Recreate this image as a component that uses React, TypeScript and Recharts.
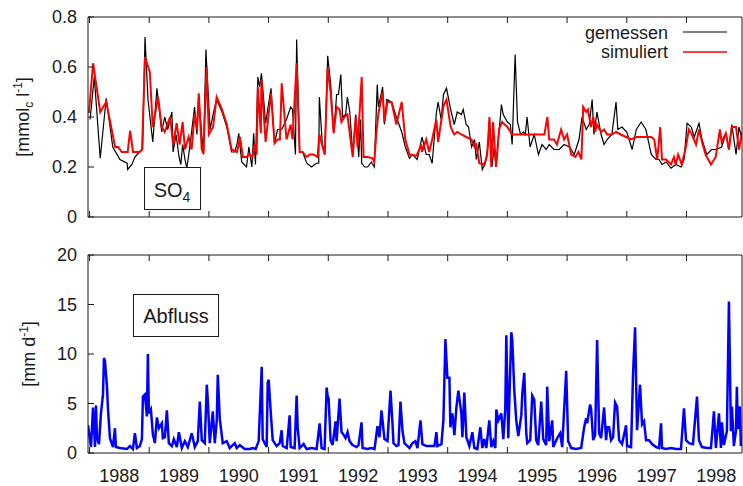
import React from 'react';
import { LineChart, Line, XAxis, YAxis } from 'recharts';

const FONT = '"Liberation Sans", Arial, Helvetica, sans-serif';
const INK = '#1a1a1a';

const jahre = [1988, 1989, 1990, 1991, 1992, 1993, 1994, 1995, 1996, 1997, 1998];
const jahresMitte = jahre.map((j) => j + 0.5);
const zeitraum: [number, number] = [1987.975, 1998.93];

const so4Ticks = [0, 0.2, 0.4, 0.6, 0.8];
const abflussTicks = [0, 5, 10, 15, 20];

// SO4 [mmolc/l], gemessen
const gemessen: [number, number][] = [
  [1988.01, 0.39], [1988.08, 0.56], [1988.18, 0.235], [1988.28, 0.475], [1988.39, 0.28], [1988.51, 0.23],
  [1988.63, 0.215], [1988.64, 0.19], [1988.71, 0.21], [1988.76, 0.24], [1988.84, 0.26], [1988.89, 0.27],
  [1988.93, 0.72], [1988.98, 0.47], [1989.06, 0.3], [1989.13, 0.515], [1989.21, 0.34], [1989.26, 0.4],
  [1989.31, 0.35], [1989.38, 0.42], [1989.4, 0.26], [1989.45, 0.33], [1989.5, 0.24], [1989.53, 0.21],
  [1989.56, 0.29], [1989.6, 0.23], [1989.63, 0.195], [1989.68, 0.28], [1989.76, 0.44], [1989.8, 0.33],
  [1989.83, 0.48], [1989.88, 0.33], [1989.91, 0.25], [1989.95, 0.67], [1990.02, 0.35], [1990.07, 0.41],
  [1990.13, 0.47], [1990.22, 0.42], [1990.3, 0.36], [1990.38, 0.26], [1990.43, 0.26], [1990.47, 0.29],
  [1990.5, 0.335], [1990.55, 0.22], [1990.63, 0.2], [1990.67, 0.28], [1990.72, 0.2], [1990.75, 0.335],
  [1990.78, 0.21], [1990.82, 0.56], [1990.85, 0.52], [1990.88, 0.575], [1990.9, 0.52], [1990.95, 0.375],
  [1991.04, 0.515], [1991.1, 0.295], [1991.15, 0.35], [1991.22, 0.35], [1991.3, 0.39], [1991.37, 0.44],
  [1991.4, 0.43], [1991.45, 0.25], [1991.47, 0.71], [1991.52, 0.26], [1991.57, 0.26], [1991.64, 0.215],
  [1991.72, 0.2], [1991.8, 0.215], [1991.84, 0.215], [1991.85, 0.48], [1991.9, 0.29], [1991.94, 0.25],
  [1991.99, 0.645], [1992.04, 0.53], [1992.09, 0.335], [1992.14, 0.49], [1992.17, 0.49], [1992.21, 0.57],
  [1992.24, 0.4], [1992.29, 0.41], [1992.32, 0.48], [1992.36, 0.42], [1992.41, 0.25], [1992.46, 0.41],
  [1992.51, 0.24], [1992.54, 0.39], [1992.56, 0.215], [1992.61, 0.2], [1992.66, 0.2], [1992.72, 0.22],
  [1992.77, 0.2], [1992.82, 0.53], [1992.84, 0.44], [1992.91, 0.52], [1992.94, 0.37], [1992.98, 0.47],
  [1993.06, 0.46], [1993.14, 0.4], [1993.23, 0.34], [1993.29, 0.28], [1993.36, 0.235], [1993.41, 0.25],
  [1993.49, 0.23], [1993.57, 0.32], [1993.64, 0.25], [1993.69, 0.25], [1993.74, 0.215], [1993.81, 0.415],
  [1993.84, 0.46], [1993.89, 0.39], [1993.93, 0.49], [1993.98, 0.515], [1994.05, 0.43], [1994.11, 0.37],
  [1994.16, 0.42], [1994.23, 0.41], [1994.26, 0.43], [1994.31, 0.37], [1994.35, 0.36], [1994.4, 0.28],
  [1994.45, 0.31], [1994.48, 0.23], [1994.53, 0.3], [1994.58, 0.19], [1994.63, 0.215], [1994.68, 0.29],
  [1994.7, 0.39], [1994.74, 0.2], [1994.78, 0.28], [1994.81, 0.2], [1994.9, 0.45], [1994.93, 0.41],
  [1995.0, 0.38], [1995.05, 0.37], [1995.08, 0.29], [1995.13, 0.65], [1995.17, 0.38], [1995.22, 0.33],
  [1995.27, 0.34], [1995.3, 0.33], [1995.33, 0.4], [1995.38, 0.28], [1995.45, 0.33], [1995.52, 0.25],
  [1995.58, 0.29], [1995.65, 0.27], [1995.7, 0.29], [1995.78, 0.27], [1995.87, 0.27], [1995.95, 0.29],
  [1996.04, 0.28], [1996.12, 0.25], [1996.2, 0.31], [1996.25, 0.4], [1996.32, 0.35], [1996.37, 0.37],
  [1996.42, 0.47], [1996.45, 0.33], [1996.5, 0.42], [1996.57, 0.33], [1996.62, 0.29], [1996.67, 0.31],
  [1996.75, 0.33], [1996.82, 0.46], [1996.85, 0.35], [1996.92, 0.36], [1997.0, 0.34], [1997.09, 0.27],
  [1997.16, 0.35], [1997.24, 0.38], [1997.32, 0.35], [1997.41, 0.25], [1997.49, 0.23], [1997.54, 0.23],
  [1997.59, 0.21], [1997.66, 0.22], [1997.74, 0.195], [1997.82, 0.21], [1997.91, 0.2], [1997.96, 0.23],
  [1998.01, 0.375], [1998.08, 0.36], [1998.13, 0.32], [1998.21, 0.375], [1998.26, 0.31], [1998.34, 0.25],
  [1998.42, 0.27], [1998.5, 0.27], [1998.59, 0.28], [1998.66, 0.335], [1998.71, 0.27], [1998.76, 0.37],
  [1998.83, 0.25], [1998.88, 0.36], [1998.93, 0.31],
];

// SO4 [mmolc/l], simuliert
const simuliert: [number, number][] = [
  [1987.99, 0.416], [1988.06, 0.615], [1988.18, 0.42], [1988.28, 0.46], [1988.43, 0.28], [1988.48, 0.28],
  [1988.54, 0.26], [1988.64, 0.26], [1988.68, 0.345], [1988.73, 0.26], [1988.84, 0.26], [1988.88, 0.27],
  [1988.93, 0.64], [1989.01, 0.58], [1989.06, 0.36], [1989.15, 0.48], [1989.21, 0.36], [1989.26, 0.34],
  [1989.35, 0.4], [1989.4, 0.29], [1989.46, 0.375], [1989.51, 0.29], [1989.56, 0.38], [1989.6, 0.27],
  [1989.66, 0.32], [1989.71, 0.27], [1989.76, 0.41], [1989.8, 0.35], [1989.83, 0.495], [1989.88, 0.27],
  [1989.91, 0.255], [1989.96, 0.6], [1990.0, 0.33], [1990.07, 0.36], [1990.13, 0.48], [1990.22, 0.43],
  [1990.3, 0.37], [1990.38, 0.27], [1990.47, 0.26], [1990.5, 0.29], [1990.52, 0.32], [1990.57, 0.24],
  [1990.63, 0.24], [1990.68, 0.25], [1990.73, 0.24], [1990.77, 0.29], [1990.8, 0.25], [1990.82, 0.52],
  [1990.87, 0.335], [1990.88, 0.55], [1990.95, 0.3], [1991.04, 0.495], [1991.1, 0.295], [1991.15, 0.31],
  [1991.19, 0.31], [1991.22, 0.535], [1991.3, 0.31], [1991.37, 0.37], [1991.4, 0.31], [1991.47, 0.615],
  [1991.52, 0.26], [1991.57, 0.26], [1991.6, 0.25], [1991.64, 0.24], [1991.69, 0.25], [1991.75, 0.25],
  [1991.82, 0.24], [1991.85, 0.33], [1991.94, 0.25], [1991.99, 0.6], [1992.04, 0.495], [1992.09, 0.335],
  [1992.14, 0.44], [1992.19, 0.43], [1992.22, 0.38], [1992.27, 0.4], [1992.32, 0.41], [1992.41, 0.24],
  [1992.46, 0.4], [1992.49, 0.28], [1992.52, 0.4], [1992.56, 0.56], [1992.59, 0.24], [1992.66, 0.24],
  [1992.74, 0.235], [1992.77, 0.22], [1992.81, 0.35], [1992.84, 0.415], [1992.91, 0.5], [1992.94, 0.38],
  [1992.99, 0.46], [1993.06, 0.46], [1993.14, 0.37], [1993.23, 0.46], [1993.29, 0.31], [1993.36, 0.25],
  [1993.48, 0.245], [1993.56, 0.29], [1993.57, 0.26], [1993.64, 0.31], [1993.69, 0.26], [1993.74, 0.31],
  [1993.81, 0.39], [1993.84, 0.3], [1993.93, 0.445], [1993.98, 0.47], [1994.05, 0.36], [1994.11, 0.33],
  [1994.16, 0.34], [1994.23, 0.33], [1994.31, 0.32], [1994.4, 0.31], [1994.45, 0.28], [1994.48, 0.29],
  [1994.53, 0.215], [1994.61, 0.21], [1994.66, 0.245], [1994.7, 0.4], [1994.73, 0.2], [1994.76, 0.38],
  [1994.81, 0.2], [1994.86, 0.35], [1994.91, 0.38], [1995.0, 0.36], [1995.08, 0.33], [1995.2, 0.33],
  [1995.33, 0.33], [1995.48, 0.33], [1995.62, 0.33], [1995.67, 0.4], [1995.7, 0.31], [1995.78, 0.31],
  [1995.83, 0.29], [1995.9, 0.35], [1995.95, 0.31], [1996.0, 0.33], [1996.07, 0.25], [1996.14, 0.24],
  [1996.19, 0.26], [1996.24, 0.23], [1996.27, 0.44], [1996.32, 0.42], [1996.35, 0.43], [1996.4, 0.36],
  [1996.44, 0.4], [1996.47, 0.34], [1996.5, 0.37], [1996.57, 0.34], [1996.62, 0.35], [1996.67, 0.33],
  [1996.75, 0.33], [1996.82, 0.34], [1996.9, 0.33], [1996.99, 0.32], [1997.07, 0.31], [1997.16, 0.32],
  [1997.29, 0.32], [1997.41, 0.32], [1997.46, 0.31], [1997.51, 0.23], [1997.56, 0.36], [1997.59, 0.23],
  [1997.66, 0.23], [1997.74, 0.21], [1997.79, 0.24], [1997.82, 0.21], [1997.86, 0.25], [1997.92, 0.21],
  [1997.99, 0.28], [1998.04, 0.35], [1998.09, 0.33], [1998.16, 0.29], [1998.21, 0.35], [1998.26, 0.3],
  [1998.32, 0.25], [1998.41, 0.21], [1998.49, 0.24], [1998.56, 0.35], [1998.59, 0.3], [1998.66, 0.335],
  [1998.71, 0.27], [1998.76, 0.36], [1998.83, 0.36], [1998.88, 0.27], [1998.93, 0.34],
];

// Abfluss [mm/d]
const abfluss: [number, number][] = [
  [1987.975, 2.8], [1988.025, 0.6], [1988.059, 4.6], [1988.092, 0.6], [1988.109, 4.8], [1988.125, 1.5],
  [1988.159, 0.9], [1988.192, 4.0], [1988.226, 5.9], [1988.243, 9.6], [1988.259, 9.3], [1988.293, 6.7],
  [1988.309, 4.5], [1988.343, 1.5], [1988.393, 0.6], [1988.426, 2.5], [1988.443, 0.6], [1988.51, 0.5],
  [1988.627, 0.4], [1988.677, 0.7], [1988.727, 0.4], [1988.761, 2.0], [1988.794, 0.5], [1988.844, 0.7],
  [1988.878, 1.4], [1988.895, 5.7], [1988.928, 5.9], [1988.962, 3.7], [1988.978, 10.0], [1988.995, 4.0],
  [1989.028, 4.4], [1989.062, 1.9], [1989.095, 1.0], [1989.129, 3.6], [1989.162, 2.5], [1989.212, 3.0],
  [1989.229, 1.5], [1989.263, 1.6], [1989.296, 4.3], [1989.329, 1.0], [1989.38, 0.7], [1989.413, 1.4],
  [1989.463, 0.6], [1989.497, 2.1], [1989.547, 0.5], [1989.597, 1.2], [1989.647, 0.6], [1989.714, 2.0],
  [1989.764, 0.6], [1989.814, 1.2], [1989.848, 5.2], [1989.881, 1.3], [1989.931, 1.0], [1989.965, 6.9],
  [1989.982, 5.3], [1990.015, 1.0], [1990.065, 4.2], [1990.099, 1.0], [1990.132, 3.3], [1990.149, 7.9],
  [1990.182, 3.5], [1990.232, 1.0], [1990.299, 1.2], [1990.349, 0.5], [1990.433, 1.0], [1990.466, 0.5],
  [1990.517, 0.8], [1990.6, 0.4], [1990.684, 0.4], [1990.734, 0.5], [1990.784, 0.4], [1990.834, 1.2],
  [1990.885, 8.7], [1990.901, 1.4], [1990.968, 0.6], [1990.985, 7.1], [1991.002, 7.4], [1991.035, 4.2],
  [1991.069, 1.3], [1991.135, 0.7], [1991.186, 1.0], [1991.219, 2.3], [1991.236, 0.7], [1991.303, 0.5],
  [1991.353, 3.8], [1991.37, 0.6], [1991.436, 0.5], [1991.47, 5.8], [1991.487, 2.6], [1991.52, 0.5],
  [1991.587, 0.9], [1991.637, 0.4], [1991.721, 0.5], [1991.804, 0.4], [1991.855, 3.0], [1991.888, 0.5],
  [1991.938, 0.4], [1991.972, 6.6], [1991.988, 5.8], [1992.005, 5.5], [1992.039, 1.3], [1992.072, 0.8],
  [1992.122, 3.2], [1992.139, 1.2], [1992.189, 5.5], [1992.222, 2.1], [1992.239, 2.0], [1992.289, 1.5],
  [1992.323, 2.1], [1992.356, 1.2], [1992.406, 0.8], [1992.473, 0.6], [1992.507, 0.8], [1992.557, 3.1],
  [1992.574, 0.5], [1992.657, 0.4], [1992.724, 0.5], [1992.774, 0.4], [1992.824, 2.7], [1992.858, 1.6],
  [1992.891, 4.3], [1992.941, 1.4], [1992.992, 1.2], [1993.042, 6.3], [1993.075, 3.0], [1993.092, 1.0],
  [1993.142, 0.7], [1993.176, 0.8], [1993.209, 5.2], [1993.243, 2.2], [1993.276, 1.0], [1993.36, 0.5],
  [1993.41, 1.0], [1993.46, 1.2], [1993.494, 0.5], [1993.544, 3.3], [1993.577, 0.9], [1993.644, 0.7],
  [1993.728, 0.7], [1993.778, 0.7], [1993.811, 2.1], [1993.828, 0.7], [1993.895, 0.9], [1993.928, 3.3],
  [1993.962, 11.5], [1993.995, 7.6], [1994.029, 7.6], [1994.045, 2.6], [1994.079, 4.0], [1994.112, 1.8],
  [1994.146, 4.6], [1994.179, 6.3], [1994.229, 4.0], [1994.246, 1.6], [1994.279, 6.1], [1994.313, 1.6],
  [1994.363, 0.7], [1994.413, 2.1], [1994.447, 0.5], [1994.497, 0.4], [1994.547, 2.6], [1994.58, 0.5],
  [1994.614, 1.4], [1994.647, 0.5], [1994.697, 3.3], [1994.731, 0.6], [1994.764, 1.2], [1994.798, 0.5],
  [1994.815, 4.4], [1994.848, 3.3], [1994.898, 4.0], [1994.932, 1.4], [1994.965, 4.6], [1994.982, 11.9],
  [1995.015, 1.5], [1995.065, 12.2], [1995.082, 11.4], [1995.116, 6.3], [1995.149, 3.3], [1995.183, 1.7],
  [1995.233, 3.8], [1995.25, 6.0], [1995.283, 8.1], [1995.316, 2.0], [1995.333, 1.0], [1995.383, 1.3],
  [1995.416, 5.8], [1995.45, 5.4], [1995.483, 1.3], [1995.517, 0.8], [1995.567, 5.2], [1995.601, 1.4],
  [1995.651, 0.8], [1995.667, 6.7], [1995.701, 1.2], [1995.751, 3.3], [1995.768, 0.6], [1995.835, 1.5],
  [1995.885, 2.0], [1995.918, 0.6], [1995.985, 8.3], [1996.018, 1.2], [1996.069, 0.5], [1996.152, 0.4],
  [1996.236, 0.5], [1996.286, 2.6], [1996.319, 3.5], [1996.336, 3.0], [1996.386, 4.9], [1996.403, 4.4],
  [1996.437, 1.3], [1996.47, 1.8], [1996.503, 11.4], [1996.537, 2.0], [1996.57, 1.5], [1996.62, 4.6],
  [1996.654, 1.3], [1996.671, 2.6], [1996.704, 2.6], [1996.737, 1.3], [1996.771, 1.6], [1996.804, 5.1],
  [1996.838, 4.7], [1996.871, 1.3], [1996.921, 0.9], [1996.988, 2.8], [1997.005, 0.7], [1997.072, 0.6],
  [1997.105, 8.0], [1997.139, 12.7], [1997.172, 2.3], [1997.222, 6.9], [1997.256, 2.9], [1997.289, 3.2],
  [1997.323, 1.3], [1997.373, 1.3], [1997.423, 0.9], [1997.49, 0.6], [1997.54, 0.5], [1997.574, 3.0],
  [1997.59, 0.5], [1997.657, 0.4], [1997.741, 0.5], [1997.824, 0.4], [1997.908, 0.4], [1997.958, 4.5],
  [1997.992, 1.3], [1998.042, 1.0], [1998.109, 0.9], [1998.176, 5.7], [1998.209, 1.3], [1998.259, 0.6],
  [1998.343, 0.5], [1998.41, 0.5], [1998.46, 4.2], [1998.493, 0.5], [1998.544, 4.0], [1998.577, 0.5],
  [1998.594, 3.1], [1998.627, 0.8], [1998.677, 2.2], [1998.711, 15.3], [1998.744, 2.2], [1998.761, 4.7],
  [1998.794, 0.7], [1998.828, 2.2], [1998.844, 6.7], [1998.861, 2.4], [1998.895, 4.7], [1998.911, 0.7],
];

const zeilen = (pts: [number, number][]) => pts.map(([t, v]) => ({ t, v }));
const leer = () => '';
const tickText = { fontSize: 18, fill: INK, fontFamily: FONT };

// frame: inward ticks on all four sides, like the gnuplot original
function rahmen(yDomain: [number, number], yTicks: number[], yFmt: (v: number) => string) {
  return [
    <XAxis key="xb" xAxisId="b" dataKey="t" type="number" domain={zeitraum} allowDataOverflow
      ticks={jahre} interval={0} tickFormatter={leer} tickSize={-6} height={1} stroke={INK} />,
    <XAxis key="xt" xAxisId="t" orientation="top" dataKey="t" type="number" domain={zeitraum} allowDataOverflow
      ticks={jahre} interval={0} tickFormatter={leer} tickSize={-6} height={1} stroke={INK} />,
    <YAxis key="yl" yAxisId="l" type="number" domain={yDomain} allowDataOverflow ticks={yTicks} interval={0}
      tickFormatter={yFmt} tickSize={-6} tickMargin={17} width={1} stroke={INK} tick={tickText} />,
    <YAxis key="yr" yAxisId="r" orientation="right" type="number" domain={yDomain} ticks={yTicks} interval={0}
      tickFormatter={leer} tickSize={-6} width={1} stroke={INK} />,
  ];
}

export default function App() {
  return (
    <div style={{ position: 'absolute', left: 0, top: 0, width: 743, height: 486, background: '#fff', fontFamily: FONT }}>
      <div style={{ position: 'absolute', left: 0, top: 0 }}>
        <LineChart width={743} height={240} margin={{ top: 16, right: 0, bottom: 22, left: 87 }}>
          {rahmen([0, 0.8], so4Ticks, (v) => (v === 0 ? '0' : v.toFixed(1)))}
          <Line xAxisId="b" yAxisId="l" data={zeilen(gemessen)} dataKey="v" type="linear" stroke="#000"
            strokeWidth={1.2} dot={false} isAnimationActive={false} />
          <Line xAxisId="b" yAxisId="l" data={zeilen(simuliert)} dataKey="v" type="linear" stroke="#ff0000"
            strokeWidth={2} dot={false} isAnimationActive={false} />
        </LineChart>
      </div>
      <div style={{ position: 'absolute', left: 0, top: 240 }}>
        <LineChart width={743} height={246} margin={{ top: 14, right: 0, bottom: 31, left: 87 }}>
          {rahmen([0, 20], abflussTicks, (v) => String(v))}
          <XAxis xAxisId="j" dataKey="t" type="number" domain={zeitraum} allowDataOverflow ticks={jahresMitte}
            interval={0} tickFormatter={(v) => String(Math.floor(v))} tickLine={false} axisLine={false}
            tickSize={0} tickMargin={15} height={1} tick={tickText} />
          <Line xAxisId="b" yAxisId="l" data={zeilen(abfluss)} dataKey="v" type="linear" stroke="#0000ff"
            strokeWidth={2.5} dot={false} isAnimationActive={false} />
        </LineChart>
      </div>
      <svg width={743} height={486} style={{ position: 'absolute', left: 0, top: 0 }} fontFamily={FONT} fill={INK}>
        <text transform="translate(29,117) rotate(-90)" textAnchor="middle" fontSize={18}>
          [mmol<tspan fontSize={12} dy={4}>c</tspan>
          <tspan dy={-4}> l</tspan>
          <tspan fontSize={12} dy={-7}>-1</tspan>
          <tspan dy={7}>]</tspan>
        </text>
        <text transform="translate(35,354) rotate(-90)" textAnchor="middle" fontSize={18}>
          [mm d<tspan fontSize={12} dy={-7}>-1</tspan>
          <tspan dy={7}>]</tspan>
        </text>
        <text x={668} y={39} textAnchor="end" fontSize={18}>gemessen</text>
        <text x={668} y={58} textAnchor="end" fontSize={18}>simuliert</text>
        <line x1={683} x2={727} y1={32} y2={32} stroke="#000" strokeWidth={1.2} />
        <line x1={683} x2={727} y1={52} y2={52} stroke="#ff0000" strokeWidth={1.5} />
        <rect x={144.5} y={167.5} width={56} height={42} fill="#fff" stroke={INK} strokeWidth={1} />
        <text x={172} y={197} textAnchor="middle" fontSize={20}>
          SO<tspan fontSize={14} dy={5}>4</tspan>
        </text>
        <rect x={133.5} y={294.5} width={85} height={42} fill="#fff" stroke={INK} strokeWidth={1} />
        <text x={176} y={323} textAnchor="middle" fontSize={20}>Abfluss</text>
      </svg>
    </div>
  );
}
